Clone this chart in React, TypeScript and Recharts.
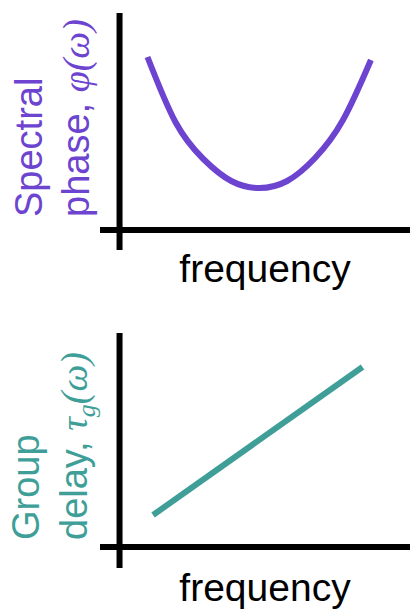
import { LineChart, Line, XAxis, YAxis, ReferenceLine, Label } from "recharts";

// top panel: spectral phase vs frequency
const phaseFreq = [1, 2, 3, 4, 5, 6, 7, 8, 9];
const phaseValues = [17.3, 10.8, 7.1, 4.9, 4.2, 4.9, 7.2, 11.0, 17.0];

// bottom panel: group delay vs frequency
const delayFreq = [1.2, 8.7];
const delayValues = [3.2, 18.0];

const xLabel = "frequency";
const phaseLabel = ["Spectral", "phase, ", "φ(ω)"];
const delayLabel = ["Group", "delay, ", "τ", "g", "(ω)"];

const PURPLE = "#6c44d0";
const TEAL = "#3f9f98";
const SANS = "'Liberation Sans', Arial, sans-serif";
const SERIF = "'Liberation Serif', 'Times New Roman', serif";

const phaseData = phaseFreq.map((f, i) => ({ f, v: phaseValues[i] }));
const delayData = delayFreq.map((f, i) => ({ f, v: delayValues[i] }));

const FREQ_DOMAIN: [number, number] = [-0.7, 10.4];

function FreqLabel({ y }: { y: number }) {
  return (
    <text x={265} y={y} textAnchor="middle" fontSize={39} fontFamily={SANS} fill="#000">
      {xLabel}
    </text>
  );
}

function PhaseYLabel() {
  return (
    <g fill={PURPLE} fontSize={38} fontFamily={SANS}>
      <text transform="translate(41.5,217) rotate(-90)">{phaseLabel[0]}</text>
      <text transform="translate(89,217) rotate(-90)">
        {phaseLabel[1]}
        <tspan fontFamily={SERIF} fontStyle="italic">{phaseLabel[2]}</tspan>
      </text>
    </g>
  );
}

function DelayYLabel() {
  return (
    <g fill={TEAL} fontSize={38} fontFamily={SANS}>
      <text transform="translate(38.5,235) rotate(-90)">{delayLabel[0]}</text>
      <text transform="translate(87,235) rotate(-90)">
        {delayLabel[1]}
        <tspan fontFamily={SERIF} fontStyle="italic">{delayLabel[2]}</tspan>
        <tspan fontFamily={SERIF} fontStyle="italic" fontSize={26} dy={8}>{delayLabel[3]}</tspan>
        <tspan fontFamily={SERIF} fontStyle="italic" dy={-8}>{delayLabel[4]}</tspan>
      </text>
    </g>
  );
}

export default function App() {
  return (
    <div style={{ position: "absolute", left: 0, top: 0, width: 410, height: 611, background: "#fff" }}>
      <LineChart width={410} height={305} data={phaseData} margin={{ top: 13, right: 0, bottom: 0, left: 0 }}>
        <XAxis
          type="number"
          dataKey="f"
          domain={FREQ_DOMAIN}
          allowDataOverflow
          height={55}
          tick={false}
          axisLine={false}
          tickLine={false}
        >
          <Label content={() => <FreqLabel y={282} />} />
        </XAxis>
        <YAxis
          type="number"
          domain={[-2, 21.7]}
          allowDataOverflow
          width={100}
          tick={false}
          axisLine={false}
          tickLine={false}
        >
          <Label content={() => <PhaseYLabel />} />
        </YAxis>
        <ReferenceLine x={0} stroke="#000" strokeWidth={6} />
        <ReferenceLine y={0} stroke="#000" strokeWidth={6} />
        <Line
          type="natural"
          dataKey="v"
          stroke={PURPLE}
          strokeWidth={6}
          dot={false}
          isAnimationActive={false}
        />
      </LineChart>
      <LineChart width={410} height={306} data={delayData} margin={{ top: 28, right: 0, bottom: 0, left: 0 }}>
        <XAxis
          type="number"
          dataKey="f"
          domain={FREQ_DOMAIN}
          allowDataOverflow
          height={43}
          tick={false}
          axisLine={false}
          tickLine={false}
        >
          <Label content={() => <FreqLabel y={296} />} />
        </XAxis>
        <YAxis
          type="number"
          domain={[-2.1, 21.4]}
          allowDataOverflow
          width={100}
          tick={false}
          axisLine={false}
          tickLine={false}
        >
          <Label content={() => <DelayYLabel />} />
        </YAxis>
        <ReferenceLine x={0} stroke="#000" strokeWidth={6} />
        <ReferenceLine y={0} stroke="#000" strokeWidth={6} />
        <Line
          type="linear"
          dataKey="v"
          stroke={TEAL}
          strokeWidth={6}
          dot={false}
          isAnimationActive={false}
        />
      </LineChart>
    </div>
  );
}
